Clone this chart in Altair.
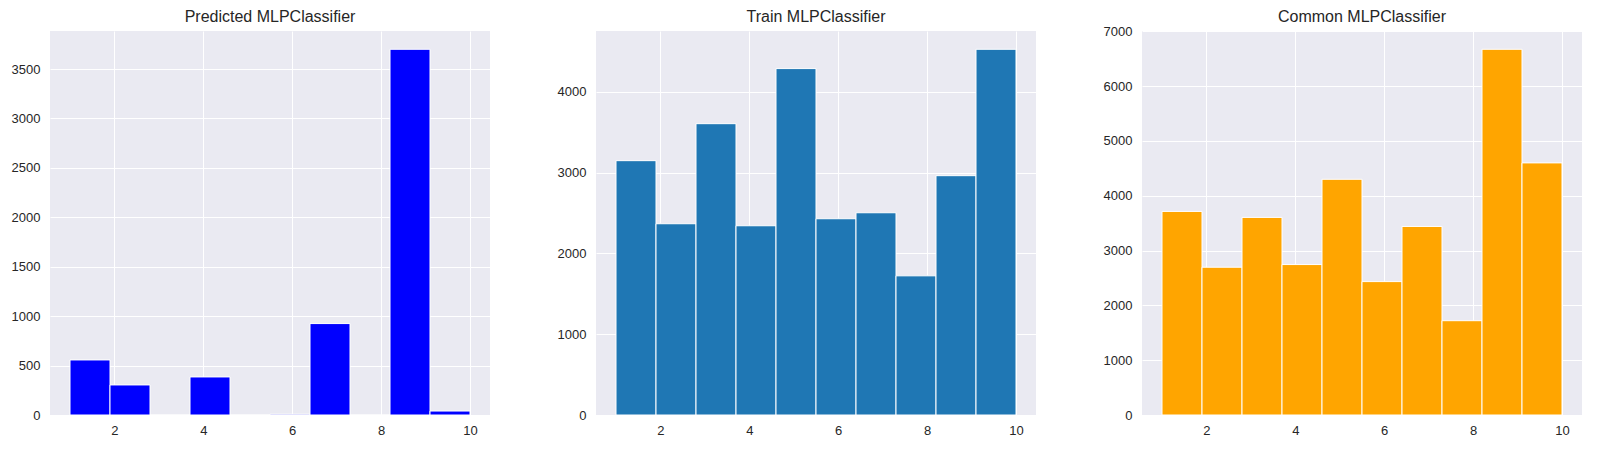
import altair as alt
import pandas as pd

bin_start = [1.0, 1.9, 2.8, 3.7, 4.6, 5.5, 6.4, 7.3, 8.2, 9.1]
bin_end = [1.9, 2.8, 3.7, 4.6, 5.5, 6.4, 7.3, 8.2, 9.1, 10.0]

predicted_counts = [557, 304, 0, 385, 0, 8, 925, 0, 3700, 40]
train_counts = [3149, 2368, 3607, 2343, 4289, 2430, 2504, 1723, 2963, 4528]
common_counts = [3713, 2695, 3604, 2744, 4299, 2433, 3439, 1720, 6670, 4598]

titles = ["Predicted MLPClassifier", "Train MLPClassifier", "Common MLPClassifier"]
colors = ["#0000FF", "#1f77b4", "#FFA500"]
y_ticks = [
    [0, 500, 1000, 1500, 2000, 2500, 3000, 3500],
    [0, 1000, 2000, 3000, 4000],
    [0, 1000, 2000, 3000, 4000, 5000, 6000, 7000],
]
title_dy = [0, 0, 6]
x_ticks = [2, 4, 6, 8, 10]

W, H = 440, 384


def panel(counts, title, color, yt, dy):
    df = pd.DataFrame({"start": bin_start, "end": bin_end, "count": counts})
    ymax = max(counts) * 1.05
    return (
        alt.Chart(df)
        .mark_rect(color=color, stroke="white", strokeWidth=1)
        .encode(
            x=alt.X(
                "start:Q",
                scale=alt.Scale(domain=[0.55, 10.45], nice=False, zero=False),
                axis=alt.Axis(values=x_ticks, title=None, format="d"),
            ),
            x2="end:Q",
            y=alt.Y(
                "count:Q",
                scale=alt.Scale(domain=[0, ymax], nice=False),
                axis=alt.Axis(values=yt, title=None, format="d"),
            ),
            y2=alt.Y2(datum=0),
        )
        .properties(
            width=W,
            height=H,
            title=alt.TitleParams(title, fontSize=16, font="Liberation Sans",
                                  color="#262626", fontWeight="normal", offset=6, dy=dy),
        )
    )


charts = [panel(c, t, col, yt, dy) for c, t, col, yt, dy in
          zip([predicted_counts, train_counts, common_counts], titles, colors, y_ticks, title_dy)]

chart = (
    alt.hconcat(*charts, spacing=66)
    .configure(padding={"left": 2, "top": 1, "right": 5, "bottom": 5}, background="white")
    .configure_view(fill="#EAEAF2", stroke=None)
    .configure_axis(
        grid=True,
        gridColor="white",
        gridWidth=1,
        domain=False,
        ticks=False,
        labelFont="Liberation Sans",
        labelFontSize=13,
        labelColor="#262626",
        labelPadding=10,
    )
    .configure_axisY(minExtent=40, maxExtent=40)
    .configure_axisX(labelPadding=9)
)

chart.save("out.html", embed_options={"renderer": "svg", "actions": False})
